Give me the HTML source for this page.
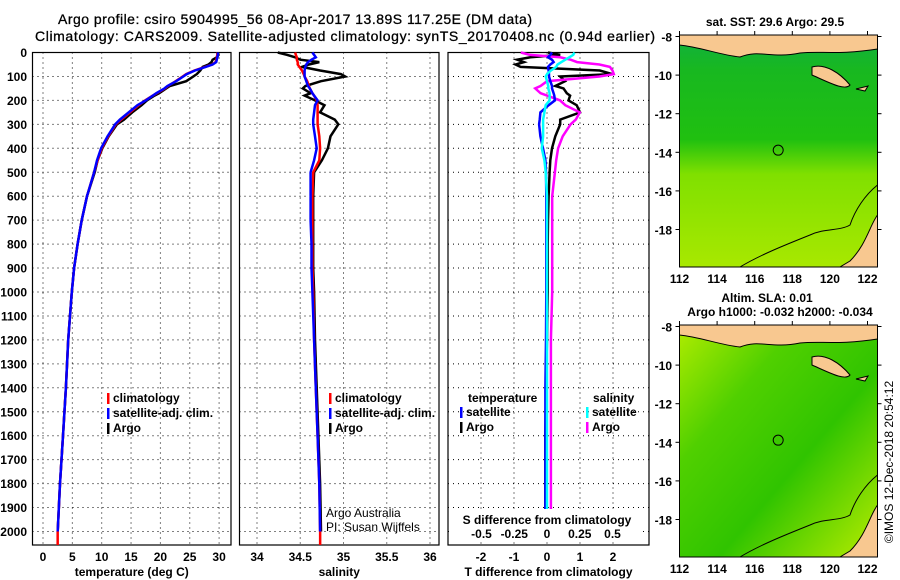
<!DOCTYPE html>
<html><head><meta charset="utf-8"><style>
html,body{margin:0;padding:0;background:#fff;}
svg{display:block;font-family:"Liberation Sans",sans-serif;}
.t{font-weight:bold;font-size:12px;fill:#000;}
.g{stroke:#000;stroke-width:1;stroke-dasharray:1 4;}
</style></head><body>
<svg id="c" width="900" height="580" viewBox="0 0 900 580">
<defs>
<linearGradient id="g1" x1="0" y1="0" x2="0" y2="1">
<stop offset="0" stop-color="#10b040"/><stop offset="0.15" stop-color="#18b820"/><stop offset="0.45" stop-color="#20c010"/><stop offset="0.6" stop-color="#80e000"/><stop offset="1" stop-color="#a8e800"/></linearGradient>
<linearGradient id="g2" x1="0" y1="0" x2="1" y2="1">
<stop offset="0" stop-color="#b0ec00"/><stop offset="0.3" stop-color="#50d000"/><stop offset="0.6" stop-color="#30c400"/><stop offset="1" stop-color="#b8ec00"/></linearGradient>
</defs>
<text x="295" y="24" text-anchor="middle" class="t" style="font-size:14px;font-weight:normal;stroke:#000;stroke-width:0.3" textLength="474">Argo profile: csiro 5904995_56 08-Apr-2017 13.89S 117.25E (DM data)</text>
<text x="345" y="41" text-anchor="middle" class="t" style="font-size:14px;font-weight:normal;stroke:#000;stroke-width:0.3" textLength="620">Climatology: CARS2009. Satellite-adjusted climatology: synTS_20170408.nc (0.94d earlier)</text>
<g id="p1"></g>
<g id="p2"></g>
<g id="p3"></g>
<g id="m1"></g>
<g id="m2"></g>
<text transform="translate(893,462) rotate(-90)" text-anchor="middle" style="font-size:12px">©IMOS 12-Dec-2018 20:54:12</text>
</svg>
<script>
const depths=[0,10,20,30,40,50,60,75,90,100,120,140,150,170,180,200,220,250,280,300,350,400,450,500,600,700,800,900,1000,1200,1400,1600,1800,2000];
const tClim=[29.7,29.7,29.6,29.5,29.4,28.8,27.6,25.8,24.4,23.8,22.6,21.3,20.8,19.4,18.7,17.4,16.3,14.8,13.3,12.4,11.1,10.0,9.3,8.7,7.5,6.6,5.9,5.3,4.9,4.3,3.9,3.4,2.9,2.5];
const tSat=[29.8,29.8,29.7,29.6,29.5,28.9,27.7,25.9,24.5,23.9,22.7,21.2,20.7,19.3,18.7,17.5,16.1,14.6,13.1,12.3,11.0,9.9,9.2,8.7,7.5,6.6,5.9,5.3,4.9,4.3,3.9,3.4,2.9,2.5];
const tArgo=[29.7,29.9,29.6,28.9,28.7,28.2,27.2,26.8,26.2,25.6,24.4,21.6,21.0,19.8,19.0,17.7,16.8,15.2,13.8,12.6,11.2,10.1,9.3,8.8,7.5,6.6,5.9,5.3,4.9,4.3,3.9,3.4,2.9,2.5];
const sClim=[34.44,34.45,34.46,34.46,34.47,34.47,34.49,34.52,34.54,34.55,34.58,34.60,34.61,34.64,34.66,34.69,34.70,34.70,34.70,34.70,34.72,34.73,34.72,34.65,34.64,34.64,34.64,34.64,34.65,34.66,34.68,34.70,34.72,34.73];
const sSat=[34.64,34.66,34.68,34.63,34.59,34.57,34.56,34.55,34.55,34.55,34.57,34.59,34.61,34.64,34.66,34.70,34.67,34.66,34.65,34.65,34.67,34.69,34.66,34.62,34.62,34.62,34.63,34.63,34.64,34.66,34.68,34.70,34.72,34.73];
const sArgo=[34.24,34.35,34.44,34.50,34.72,34.60,34.52,34.73,34.97,35.02,34.74,34.56,34.53,34.62,34.55,34.67,34.78,34.73,34.90,34.94,34.85,34.82,34.75,34.66,34.65,34.65,34.65,34.65,34.66,34.67,34.69,34.71,34.73,34.74];
const dtSat=[0.15,0.1,0.03,0.15,0.2,0.1,0.03,0.05,0.06,0.06,0.1,0.15,0.15,0.2,0.22,0.24,0.05,-0.2,-0.22,-0.24,-0.2,-0.12,-0.05,-0.03,-0.02,-0.02,-0.02,-0.02,-0.02,-0.03,-0.05,-0.05,-0.05,-0.05];
const dsSat=[0.21,0.2,0.17,0.14,0.11,0.08,0.07,0.03,0.0,-0.01,0.0,0.01,0.01,0.02,0.02,0.02,-0.01,-0.02,-0.03,-0.03,-0.03,-0.04,-0.02,-0.01,0,0,0,0,0,0,0,0,0,0];
const dtArgo=[0.03,0.4,-0.5,-0.9,-0.7,-0.95,-0.8,1.6,1.97,0.4,0.55,0.25,0.5,0.6,0.7,0.65,0.9,1.0,0.4,0.4,0.25,0.15,0.1,0.08,0.05,0.03,0.02,0.02,0.02,0.0,-0.03,-0.05,-0.05,-0.05];
const dsArgo=[-0.2,-0.13,0.1,0.18,0.23,0.4,0.48,0.5,0.51,0.4,0.0,-0.05,-0.09,-0.05,0.0,0.1,0.14,0.25,0.22,0.18,0.12,0.085,0.07,0.06,0.04,0.04,0.04,0.04,0.04,0.03,0.03,0.03,0.03,0.03];
const depthTicks=[0,100,200,300,400,500,600,700,800,900,1000,1100,1200,1300,1400,1500,1600,1700,1800,1900,2000];
const tTicks=[0,5,10,15,20,25,30];
const sTicks=[34,34.5,35,35.5,36];
const dtTicks=[-2,-1,0,1,2];
const dsTicks=[-0.5,-0.25,0,0.25,0.5];
const latTicks=[-8,-10,-12,-14,-16,-18];
const lonTicks=[112,114,116,118,120,122];

const NS='http://www.w3.org/2000/svg';
function mk(parent,tag,attrs,txt){const e=document.createElementNS(NS,tag);for(const k in attrs)e.setAttribute(k,attrs[k]);if(txt!==undefined)e.textContent=txt;parent.appendChild(e);return e;}
const Y0=52.5,YB=545;
const yD=d=>52.5+d*0.2395;
function panel(g,L,R,xf,xticks,xlab,fmt){
  for(const d of depthTicks){mk(g,'line',{x1:L,x2:R,y1:yD(d),y2:yD(d),class:'g'});}
  for(const t of xticks){const x=xf(t);mk(g,'line',{x1:x,x2:x,y1:Y0,y2:YB,class:'g'});}
  const fr=mk(g,'rect',{x:L,y:Y0,width:R-L,height:YB-Y0,fill:'none',stroke:'#000','stroke-width':1.2});
  
  if(xlab){for(const t of xticks){const l=mk(g,'text',{x:xf(t),y:561,'text-anchor':'middle',class:'t'},fmt?fmt(t):String(t));
    }
    const a=mk(g,'text',{x:(L+R)/2,y:576,'text-anchor':'middle',class:'t'},xlab);
    }
}
function line(g,xf,vals,color,name,w){
  const pts=vals.map((v,i)=>xf(v).toFixed(1)+','+yD(depths[i]).toFixed(1)).join(' ');
  const p=mk(g,'polyline',{points:pts,fill:'none',stroke:color,'stroke-width':w||2.5});
  
}
function legend(g,x,y,items){items.forEach((it,i)=>{mk(g,'rect',{x:x,y:y+i*15-9,width:2.5,height:11,fill:it[1]});
  const t=mk(g,'text',{x:x+6,y:y+i*15,class:'t'},it[0]);});}

// panel 1
const p1=document.getElementById('p1');
const xT=t=>43+t*5.87;
panel(p1,32.5,231,xT,tTicks,'temperature (deg C)');
for(const d of depthTicks){const l=mk(p1,'text',{x:27,y:yD(d)+4.5,'text-anchor':'end',class:'t'},String(d));
  }
line(p1,xT,tArgo,'#000','temp-argo-line');
line(p1,xT,tClim,'#f00','temp-climatology-line');
line(p1,xT,tSat,'#00f','temp-satellite-line');
mk(p1,'line',{x1:xT(2.5),x2:xT(2.5),y1:yD(2000),y2:545,stroke:'#f00','stroke-width':2.5});
legend(p1,107,402,[['climatology','#f00'],['satellite-adj. clim.','#00f'],['Argo','#000']]);

// panel 2
const p2=document.getElementById('p2');
const xS=s=>257+(s-34)*86.5;
panel(p2,239.5,439,xS,sTicks,'salinity');
line(p2,xS,sArgo,'#000','sal-argo-line');
line(p2,xS,sClim,'#f00','sal-climatology-line');
line(p2,xS,sSat,'#00f','sal-satellite-line');
mk(p2,'line',{x1:xS(34.73),x2:xS(34.73),y1:yD(2000),y2:545,stroke:'#f00','stroke-width':2.5});
legend(p2,329,402,[['climatology','#f00'],['satellite-adj. clim.','#00f'],['Argo','#000']]);
mk(p2,'text',{x:326,y:517,style:'font-size:12px'},'Argo Australia');
mk(p2,'text',{x:326,y:531,style:'font-size:12px'},'PI: Susan Wijffels');

// panel 3
const p3=document.getElementById('p3');
const xDT=d=>547+d*33;
const xDS=d=>547+d*131;
panel(p3,448,649,xDT,dtTicks,'T difference from climatology');
line(p3,xDT,dtArgo,'#000','tdiff-argo-line');
line(p3,xDS,dsArgo,'#f0f','sdiff-argo-line');
line(p3,xDT,dtSat,'#00f','tdiff-satellite-line');
line(p3,xDS,dsSat,'#0ff','sdiff-satellite-line');
mk(p3,'rect',{x:452,y:509,width:190,height:32,fill:'#fff'});
mk(p3,'text',{x:547,y:524,'text-anchor':'middle',class:'t'},'S difference from climatology');
for(const t of dsTicks){const l=mk(p3,'text',{x:xDS(t),y:538,'text-anchor':'middle',class:'t'},String(t).replace('0.','.').replace(/^-\./,'-0.').replace(/^\./,'0.'));
  }
mk(p3,'text',{x:468,y:402,class:'t'},'temperature');
mk(p3,'text',{x:593,y:402,class:'t'},'salinity');
legend(p3,460,416,[['satellite','#00f'],['Argo','#000']]);
legend(p3,586,416,[['satellite','#0ff'],['Argo','#f0f']]);

// maps
function map(g,top,fill,ttl1,ttl2){
  const L=679.5,R=877.5,B=top+232;
  const yL=la=>top+1.5+(-8-la)*19.3;
  const xL=lo=>679.5+(lo-112)*18.8;
  mk(g,'rect',{x:L,y:top,width:R-L,height:B-top,fill:'url(#'+fill+')'});
  // land (islands north)
  mk(g,'path',{d:`M${L} ${top} L${R} ${top} L${R} ${top+14} C840 ${top+20} 820 ${top+16} 800 ${top+18} C770 ${top+24} 760 ${top+14} 740 ${top+22} C720 ${top+20} 700 ${top+12} ${L} ${top+10} Z`,fill:'#f8c890',stroke:'#000','stroke-width':1});
  mk(g,'path',{d:`M812 ${top+32} C825 ${top+28} 840 ${top+38} 850 ${top+50} C845 ${top+56} 830 ${top+48} 812 ${top+40} Z`,fill:'#f8c890',stroke:'#000','stroke-width':1});
  mk(g,'path',{d:`M856 ${top+54} L868 ${top+51} L865 ${top+56} Z`,fill:'#f8c890',stroke:'#000','stroke-width':1});
  // Australia
  mk(g,'path',{d:`M${R} ${top+180} C870 ${top+190} 866 ${top+210} 850 ${top+226} L840 ${B} L${R} ${B} Z`,fill:'#f8c890',stroke:'#000','stroke-width':1});
  mk(g,'path',{d:`M${R} ${top+150} C865 ${top+160} 855 ${top+175} 850 ${top+190} C840 ${top+196} 825 ${top+193} 810 ${top+200} C785 ${top+210} 760 ${top+220} 740 ${B}`,fill:'none',stroke:'#000','stroke-width':1});
  mk(g,'circle',{cx:xL(117.25),cy:yL(-13.89),r:5,fill:'none',stroke:'#000','stroke-width':1});
  mk(g,'rect',{x:L,y:top,width:R-L,height:B-top,fill:'none',stroke:'#000','stroke-width':1});
  for(const la of latTicks){const l=mk(g,'text',{x:672,y:yL(la)+5,'text-anchor':'end',class:'t'},String(la));
    
    mk(g,'line',{x1:L-4,x2:L,y1:yL(la),y2:yL(la),stroke:'#000'});mk(g,'line',{x1:R,x2:R+4,y1:yL(la),y2:yL(la),stroke:'#000'});}
  for(const lo of lonTicks){const l=mk(g,'text',{x:xL(lo),y:B+16,'text-anchor':'middle',class:'t'},String(lo));
    
    mk(g,'line',{x1:xL(lo),x2:xL(lo),y1:top-4,y2:top,stroke:'#000'});}
}
const m1=document.getElementById('m1'),m2=document.getElementById('m2');
map(m1,35,'g1');
map(m2,325,'g2');
mk(m1,'text',{x:775,y:26,'text-anchor':'middle',class:'t'},'sat. SST: 29.6 Argo: 29.5');
mk(m2,'text',{x:767,y:302,'text-anchor':'middle',class:'t'},'Altim. SLA: 0.01');
mk(m2,'text',{x:780,y:316,'text-anchor':'middle',class:'t'},'Argo h1000: -0.032 h2000: -0.034');
</script>
</body></html>
